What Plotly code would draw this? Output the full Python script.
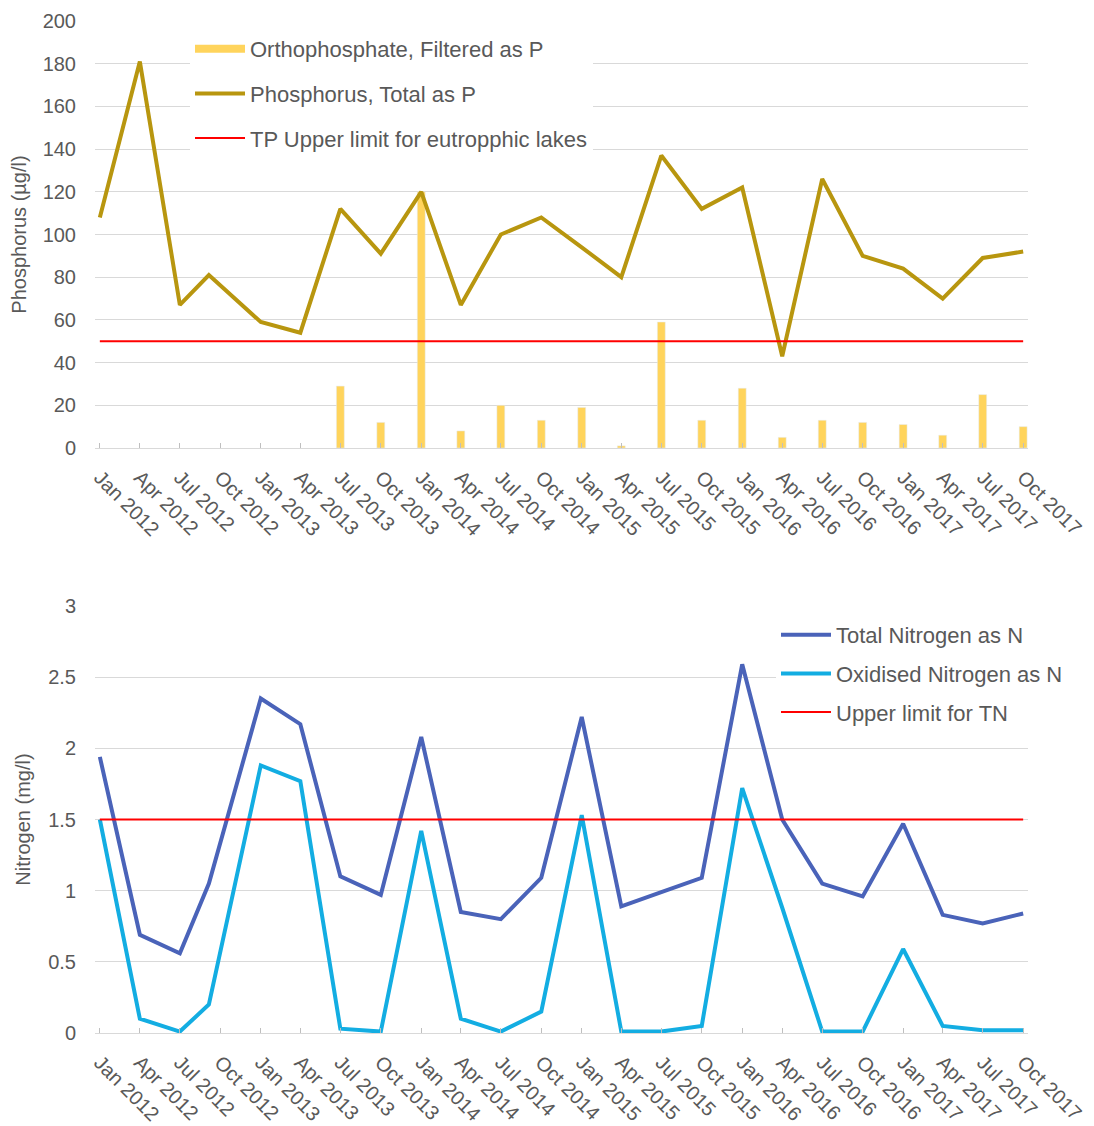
import plotly.graph_objects as go

# ---- data ----
sample_dates = ["2012-01-01", "2012-04-01", "2012-07-01", "2012-09-05", "2013-01-01", "2013-04-01",
                "2013-07-01", "2013-10-01", "2014-01-01", "2014-04-01", "2014-07-01", "2014-10-01",
                "2015-01-01", "2015-04-01", "2015-07-01", "2015-10-01", "2016-01-01", "2016-04-01",
                "2016-07-01", "2016-10-01", "2017-01-01", "2017-04-01", "2017-07-01", "2017-10-01"]
tick_dates = ["2012-01-01", "2012-04-01", "2012-07-01", "2012-10-01", "2013-01-01", "2013-04-01",
              "2013-07-01", "2013-10-01", "2014-01-01", "2014-04-01", "2014-07-01", "2014-10-01",
              "2015-01-01", "2015-04-01", "2015-07-01", "2015-10-01", "2016-01-01", "2016-04-01",
              "2016-07-01", "2016-10-01", "2017-01-01", "2017-04-01", "2017-07-01", "2017-10-01"]
tick_labels = ["Jan 2012", "Apr 2012", "Jul 2012", "Oct 2012", "Jan 2013", "Apr 2013",
               "Jul 2013", "Oct 2013", "Jan 2014", "Apr 2014", "Jul 2014", "Oct 2014",
               "Jan 2015", "Apr 2015", "Jul 2015", "Oct 2015", "Jan 2016", "Apr 2016",
               "Jul 2016", "Oct 2016", "Jan 2017", "Apr 2017", "Jul 2017", "Oct 2017"]

orthophosphate = [None, None, None, None, None, None,
                  29, 12, 120, 8, 20, 13,
                  19, 1, 59, 13, 28, 5,
                  13, 12, 11, 6, 25, 10]
total_phosphorus = [108, 181, 67, 81, 59, 54,
                    112, 91, 120, 67, 100, 108,
                    94, 80, 137, 112, 122, 43,
                    126, 90, 84, 70, 89, 92]
tp_limit_dates = ["2012-01-01", "2017-10-01"]
tp_limit = [50, 50]

total_nitrogen = [1.94, 0.69, 0.56, 1.05, 2.35, 2.17,
                  1.10, 0.97, 2.08, 0.85, 0.80, 1.09,
                  2.22, 0.89, 0.99, 1.09, 2.59, 1.50,
                  1.05, 0.96, 1.47, 0.83, 0.77, 0.84]
oxidised_nitrogen = [1.50, 0.10, 0.01, 0.20, 1.88, 1.77,
                     0.03, 0.01, 1.42, 0.10, 0.01, 0.15,
                     1.53, 0.01, 0.01, 0.05, 1.72, 0.88,
                     0.01, 0.01, 0.59, 0.05, 0.02, 0.02]
tn_limit_dates = ["2012-01-01", "2017-10-01"]
tn_limit = [1.5, 1.5]

# ---- style ----
W, H = 1094, 1126
OFF = 8  # page body margin
L, R = 95 - OFF, 1094 - (1028 - OFF)
FONT = "Liberation Sans, Arial, sans-serif"
GRAY = "#595959"
GRID = "#D9D9D9"
BAR_C = "#FFD45C"
TP_C = "#B8960F"
RED = "#FF0000"
TN_C = "#4A63B9"
ON_C = "#13ADE2"

def py(px):
    return 1 - (px - OFF) / H

def px_x(px):
    return (px - OFF - L) / (W - L - R)

fig = go.Figure()

fig.add_trace(go.Bar(x=sample_dates, y=orthophosphate, name="Orthophosphate, Filtered as P",
                     marker_color=BAR_C, width=18 * 86400000, xaxis="x", yaxis="y",
                     showlegend=False))
# legend entry drawn as a thick swatch like the source chart
fig.add_trace(go.Scatter(x=[None], y=[None], name="Orthophosphate, Filtered as P",
                         mode="lines", line=dict(color=BAR_C, width=8), xaxis="x", yaxis="y",
                         legend="legend", legendgroup="a"))
fig.add_trace(go.Scatter(x=sample_dates, y=total_phosphorus, name="Phosphorus, Total as P",
                         mode="lines", line=dict(color=TP_C, width=4), xaxis="x", yaxis="y",
                         legend="legend", legendgroup="b"))
fig.add_trace(go.Scatter(x=tp_limit_dates, y=tp_limit, name="TP Upper limit for eutropphic lakes",
                         mode="lines", line=dict(color=RED, width=2), xaxis="x", yaxis="y",
                         legend="legend", legendgroup="c"))

fig.add_trace(go.Scatter(x=sample_dates, y=total_nitrogen, name="Total Nitrogen as N",
                         mode="lines", line=dict(color=TN_C, width=4), xaxis="x2", yaxis="y2",
                         legend="legend2", legendgroup="d"))
fig.add_trace(go.Scatter(x=sample_dates, y=oxidised_nitrogen, name="Oxidised Nitrogen as N",
                         mode="lines", line=dict(color=ON_C, width=4), xaxis="x2", yaxis="y2",
                         legend="legend2", legendgroup="e"))
fig.add_trace(go.Scatter(x=tn_limit_dates, y=tn_limit, name="Upper limit for TN",
                         mode="lines", line=dict(color=RED, width=2), xaxis="x2", yaxis="y2",
                         legend="legend2", legendgroup="f"))

xcommon = dict(type="date", range=["2011-12-21", "2017-10-12"], tickmode="array",
               tickvals=tick_dates, ticktext=tick_labels, tickangle=45,
               tickfont=dict(family=FONT, size=20, color=GRAY), ticklabelstandoff=9,
               showgrid=False, showline=True, linecolor=GRID, linewidth=1,
               ticks="inside", ticklen=5, tickcolor="#BFBFBF", zeroline=False,
               automargin=False)
ycommon = dict(showgrid=True, gridcolor=GRID, gridwidth=1, zeroline=False, showline=False,
               tickfont=dict(family=FONT, size=20, color=GRAY), ticklabelstandoff=18,
               title_font=dict(family=FONT, size=20, color=GRAY), title_standoff=12,
               automargin=False)

fig.update_layout(
    width=W, height=H,
    margin=dict(l=L, r=R, t=0, b=0),
    paper_bgcolor="white", plot_bgcolor="white",
    barmode="overlay",
    xaxis=dict(xcommon, domain=[0, 1], anchor="y"),
    yaxis=dict(ycommon, domain=[py(448), py(21)], range=[0, 200], dtick=20,
               title_text="Phosphorus (µg/l)", anchor="x"),
    xaxis2=dict(xcommon, domain=[0, 1], anchor="y2"),
    yaxis2=dict(ycommon, domain=[py(1033), py(606)], range=[0, 3], dtick=0.5,
                title_text="Nitrogen (mg/l)", anchor="x2"),
    legend=dict(x=px_x(190), y=py(28), xanchor="left", yanchor="top",
                font=dict(family=FONT, size=22, color=GRAY), bgcolor="white",
                tracegroupgap=13, traceorder="grouped", itemwidth=50),
    legend2=dict(x=px_x(776), y=py(614), xanchor="left", yanchor="top",
                 font=dict(family=FONT, size=22, color=GRAY), bgcolor="white",
                 tracegroupgap=7, traceorder="grouped", itemwidth=50),
    showlegend=True,
)

fig.write_html("out.html")
